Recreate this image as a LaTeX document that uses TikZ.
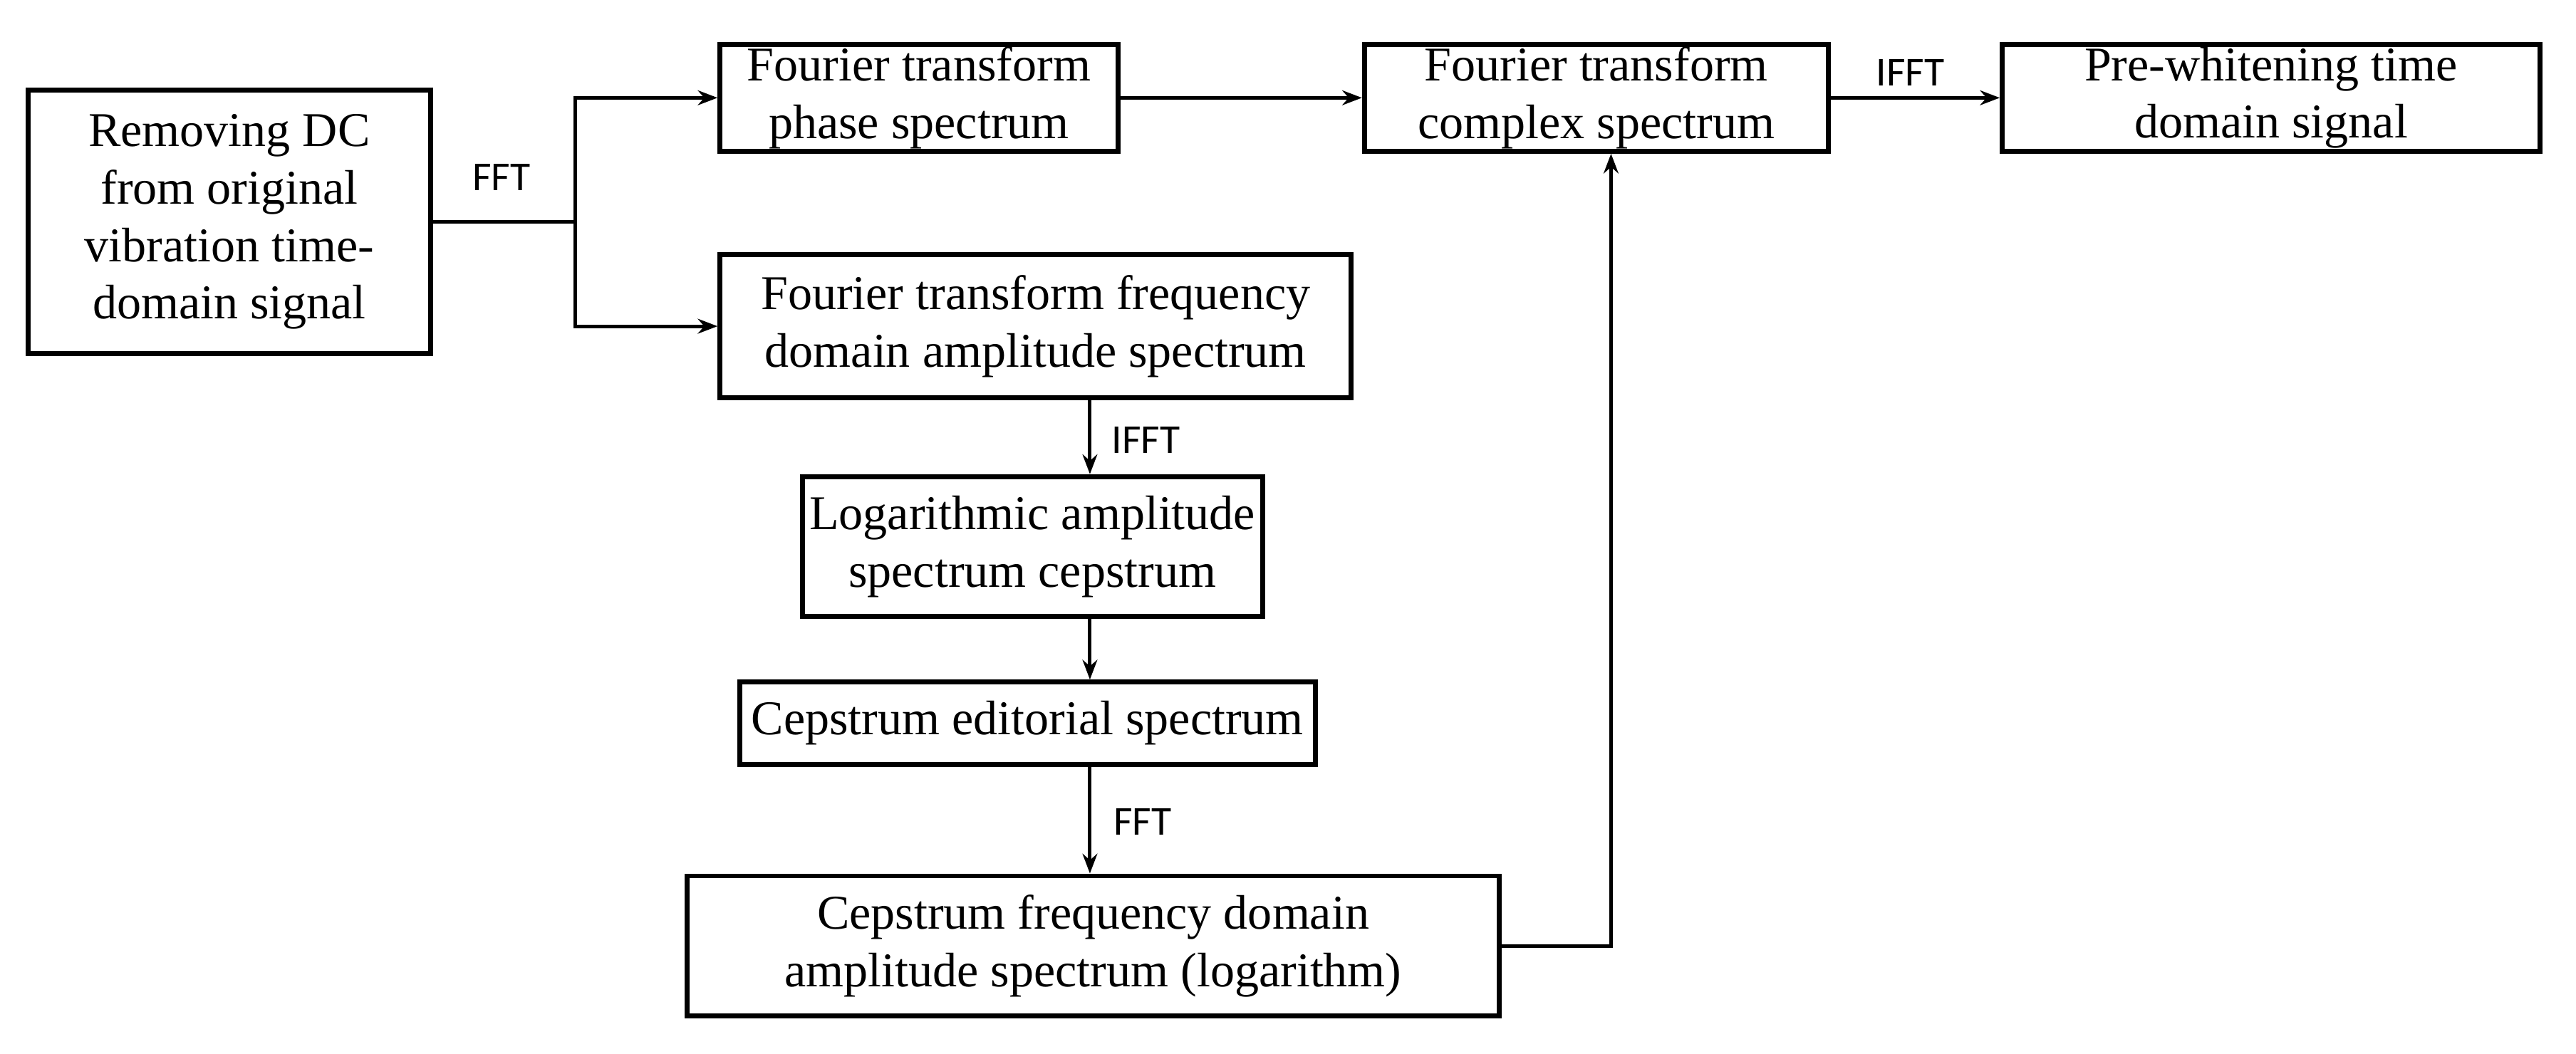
\documentclass[tikz,border=0pt]{standalone}
\usepackage{fontspec}
\setmainfont{Liberation Serif}
\newfontfamily\lblfont{Carlito}
\usetikzlibrary{arrows.meta}
\begin{document}
\begin{tikzpicture}[x=1pt,y=-1pt,
  box/.style={draw,line width=3pt,align=center,inner sep=0pt,font=\fontsize{29.5}{35}\selectfont},
  arr/.style={line width=2.2pt,-{Stealth[length=12pt,width=9pt]}},
  lbl/.style={font=\lblfont\fontsize{25}{28}\selectfont}]
\useasboundingbox (0,0) rectangle (1567,641);
\node[box,minimum width=245pt,minimum height=160pt] (dc) at (139.5,135) {Removing DC\\from original\\vibration time-\\domain signal};
\node[box,minimum width=242pt,minimum height=65pt] (ph) at (559,59.5) {Fourier transform\\phase spectrum};
\node[box,minimum width=282pt,minimum height=65pt] (cx) at (971,59.5) {Fourier transform\\complex spectrum};
\node[box,minimum width=327pt,minimum height=65pt] (pw) at (1381.5,59.5) {Pre-whitening time\\domain signal};
\node[box,minimum width=384pt,minimum height=87pt] (fa) at (630,198.5) {Fourier transform frequency\\domain amplitude spectrum};
\node[box,minimum width=280pt,minimum height=85pt] (lg) at (628,332.5) {Logarithmic amplitude\\spectrum cepstrum};
\node[box,minimum width=350pt,minimum height=50pt] (ed) at (625,440) {Cepstrum editorial spectrum};
\node[box,minimum width=494pt,minimum height=85pt] (cf) at (665,575.5) {Cepstrum frequency domain\\amplitude spectrum (logarithm)};
\coordinate (j) at (350,135);
\draw[line width=2.2pt] (dc.east) -- (j);
\draw[arr] (j) |- (ph.west);
\draw[arr] (j) |- (fa.west);
\node[lbl] (l1) at (305,108) {FFT};
\draw[arr] (ph.east) -- (cx.west);
\draw[arr] (cx.east) -- (pw.west);
\node[lbl] (l2) at (1162,44) {IFFT};
\draw[arr] (fa.south -| 663,0) -- (lg.north -| 663,0);
\node[lbl] (l3) at (697,268) {IFFT};
\draw[arr] (lg.south -| 663,0) -- (ed.north -| 663,0);
\draw[arr] (ed.south -| 663,0) -- (cf.north -| 663,0);
\node[lbl] (l4) at (695,500) {FFT};
\draw[arr] (cf.east) -| (cx.south -| 980,0);
\end{tikzpicture}
\end{document}
